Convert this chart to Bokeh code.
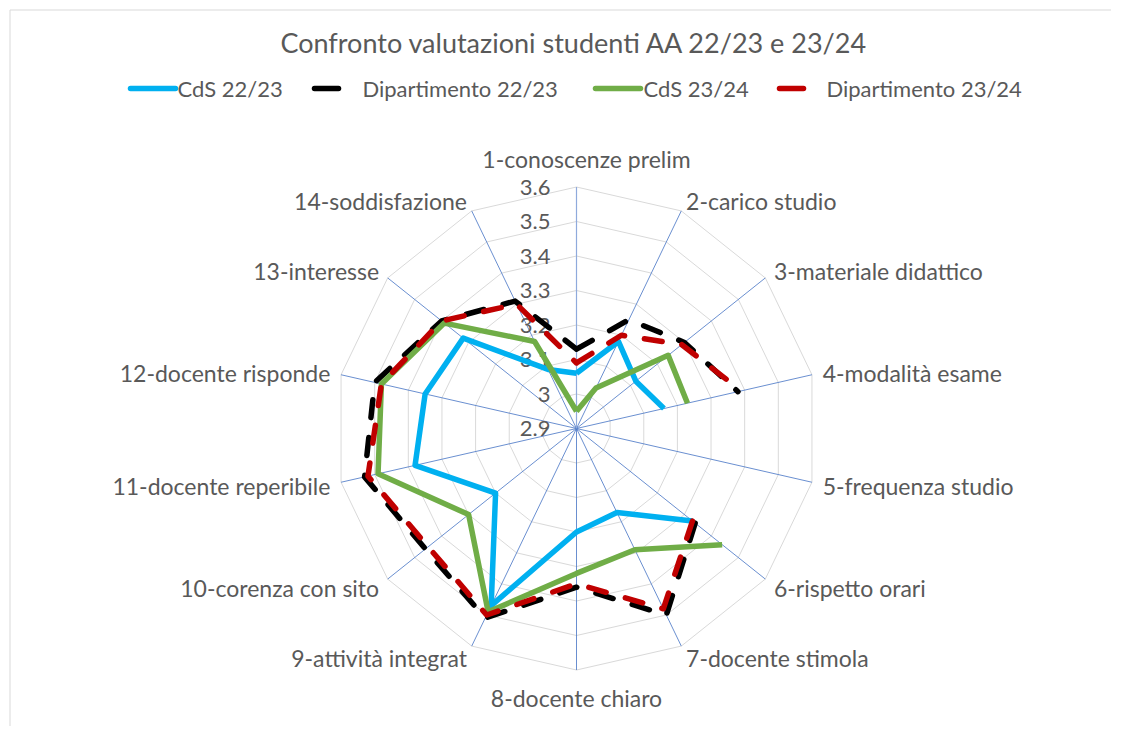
import math
from bokeh.plotting import figure
from bokeh.models import Range1d
from bokeh.core.properties import value
from bokeh.embed import file_html
from bokeh.resources import INLINE

# ---------------- data ----------------
categories = [
    "1-conoscenze prelim", "2-carico studio", "3-materiale didattico",
    "4-modalità esame", "5-frequenza studio", "6-rispetto orari",
    "7-docente stimola", "8-docente chiaro", "9-attività integrat",
    "10-corenza con sito", "11-docente reperibile", "12-docente risponde",
    "13-interesse", "14-soddisfazione",
]
cds_2223 = [3.06, 3.18, 3.12, 3.16, None, 3.33, 3.17, 3.20, 3.47, 3.20, 3.38, 3.35, 3.32, 3.09]
dip_2223 = [3.13, 3.25, 3.30, 3.38, None, 3.34, 3.50, 3.36, 3.51, 3.46, 3.53, 3.50, 3.40, 3.31]
cds_2324 = [2.95, 3.03, 3.24, 3.23, None, 3.44, 3.29, 3.32, 3.49, 3.30, 3.49, 3.48, 3.39, 3.18]
dip_2324 = [3.09, 3.20, 3.29, 3.39, None, 3.33, 3.48, 3.35, 3.50, 3.45, 3.52, 3.48, 3.40, 3.30]
series_names = ["CdS 22/23", "Dipartimento 22/23", "CdS 23/24", "Dipartimento 23/24"]
tick_values = [2.9, 3.0, 3.1, 3.2, 3.3, 3.4, 3.5, 3.6]
tick_labels = ["2.9", "3", "3.1", "3.2", "3.3", "3.4", "3.5", "3.6"]
title_text = "Confronto valutazioni studenti AA 22/23 e 23/24"

# ---------------- styles ----------------
FONT = value("Lato")
TXT = "#595959"
colors = ["#00B0F0", "#000000", "#70AD47", "#C00000"]
dashed = [False, True, False, True]

W, H = 1111, 726
p = figure(width=W, height=H, x_range=Range1d(0, W), y_range=Range1d(H, 0),
           output_backend="svg", toolbar_location=None, min_border=0)
p.axis.visible = False
p.grid.visible = False
p.outline_line_color = None
p.background_fill_color = "white"
p.border_fill_color = "white"

CX, CY, R = 576.0, 428.0, 241.5
n = len(categories)
vmin, vmax = tick_values[0], tick_values[-1]
angles = [2 * math.pi * k / n for k in range(n)]


def pt(v, k):
    r = (v - vmin) / (vmax - vmin) * R
    return CX + r * math.sin(angles[k]), CY - r * math.cos(angles[k])


# chart border (left/top visible)
p.segment(x0=[9.5, 9.5], y0=[9.5, 9.5], x1=[9.5, W], y1=[H, 9.5],
          line_color="#D9D9D9", line_width=1)

# grid rings
gx, gy = [], []
for tv in tick_values[1:]:
    xs, ys = [], []
    for k in list(range(n)) + [0]:
        x, y = pt(tv, k)
        xs.append(x)
        ys.append(y)
    gx.append(xs)
    gy.append(ys)
p.multi_line(gx, gy, line_color="#D9D9D9", line_width=1)

# spokes
sx1, sy1 = [], []
for k in range(1, n):
    x, y = pt(vmax, k)
    sx1.append(x)
    sy1.append(y)
p.segment(x0=[CX] * len(sx1), y0=[CY] * len(sx1), x1=sx1, y1=sy1,
          line_color="#4472C4", line_width=0.8)
tx, ty = pt(vmax, 0)
p.segment(x0=[CX], y0=[CY], x1=[tx], y1=[ty], line_color="#8FAADC", line_width=1.2)

# tick labels
tl_y = [pt(v, 0)[1] for v in tick_values]
p.text(x=[550] * len(tick_values), y=tl_y, text=tick_labels, text_align="right",
       text_baseline="middle", text_font=FONT, text_font_size=value("22px"), text_color=TXT)

# category labels
lx, ly, la, lt = [], [], [], []
for k, name in enumerate(categories):
    s, c = math.sin(angles[k]), math.cos(angles[k])
    if abs(s) < 1e-6:
        if c > 0:
            lx.append(CX + 10)
            ly.append(CY - R - 28.5)
        else:
            lx.append(CX)
            ly.append(CY + R + 27.5)
        la.append("center")
    else:
        lx.append(CX + (R + 11) * s)
        ly.append(CY - (R + 12) * c + 1)
        la.append("left" if s > 0 else "right")
    lt.append(name)
p.text(x=lx, y=ly, text=lt, text_align=la, text_baseline="middle",
       text_font=FONT, text_font_size=value("23px"), text_color=TXT)

# series
for vals, col, dsh in zip([cds_2223, dip_2223, cds_2324, dip_2324], colors, dashed):
    xs, ys = [], []
    for k in list(range(n)) + [0]:
        v = vals[k]
        if v is None:
            xs.append(float("nan"))
            ys.append(float("nan"))
        else:
            x, y = pt(v, k)
            xs.append(x)
            ys.append(y)
    if dsh:
        p.line(xs, ys, line_color=col, line_width=5.5, line_dash="18 20",
               line_cap="round", line_join="round")
    else:
        p.line(xs, ys, line_color=col, line_width=5.5, line_join="round")

# title
p.text(x=[574], y=[42], text=[title_text], text_align="center", text_baseline="middle",
       text_font=FONT, text_font_size=value("27px"), text_color=TXT)

# legend (manual, horizontal)
leg_x0 = [130, 314, 595, 779]
leg_x1 = [175, 338, 640, 803]
leg_tx = [177, 362, 643, 826]
LY = 88
for x0, x1, col, dsh in zip(leg_x0, leg_x1, colors, dashed):
    p.segment(x0=[x0], y0=[LY], x1=[x1], y1=[LY], line_color=col, line_width=5.5,
              line_cap="round")
p.text(x=leg_tx, y=[LY] * 4, text=series_names, text_align="left", text_baseline="middle",
       text_font=FONT, text_font_size=value("22px"), text_color=TXT)

open("out.html", "w").write(file_html(p, INLINE))
